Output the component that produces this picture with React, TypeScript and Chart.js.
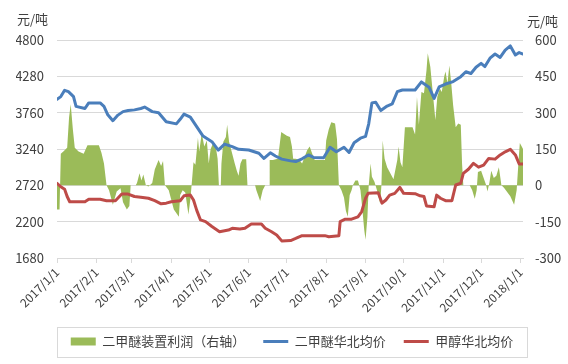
import React, { useEffect, useRef } from 'react';
import { Chart, registerables } from 'chart.js';

Chart.register(...registerables);

const FONT = '"Noto Sans CJK SC", "Noto Sans", sans-serif';

const tickDays = [0, 31, 59, 90, 120, 151, 181, 212, 243, 273, 304, 334, 365];
const tickLabels = [
  '2017/1/1', '2017/2/1', '2017/3/1', '2017/4/1', '2017/5/1', '2017/6/1', '2017/7/1',
  '2017/8/1', '2017/9/1', '2017/10/1', '2017/11/1', '2017/12/1', '2018/1/1',
];

const leftMin = 1680;
const leftMax = 4800;
const leftStep = 520;
const rightMin = -300;
const rightMax = 600;
const rightStep = 150;

const seriesNames = ['二甲醚华北均价', '甲醇华北均价', '二甲醚装置利润（右轴）'];

// 二甲醚华北均价 (left axis)
const dmeDays = [
  0, 3, 6, 9, 13, 15, 22, 25, 34, 37, 40, 44, 48, 52, 56, 61, 66, 69, 75, 80, 86, 94, 97, 100,
  105, 110, 115, 122, 127, 132, 138, 143, 151, 159, 163, 168, 172, 177, 184, 188, 193, 198, 202,
  210, 215, 220, 226, 230, 234, 239, 243, 245.5, 248, 251, 255, 260, 264, 268, 272, 282, 287, 293,
  297, 301, 306, 312, 318, 322, 326, 330, 334, 337, 341, 345, 349, 353, 357, 361, 364, 367,
];
const dmePrice = [
  3950, 3990, 4080, 4060, 3990, 3850, 3820, 3900, 3900, 3850, 3730, 3645, 3725, 3775, 3790, 3800, 3820, 3840, 3775, 3760, 3630, 3600, 3665, 3740,
  3695, 3560, 3425, 3345, 3225, 3310, 3275, 3235, 3225, 3180, 3105, 3185, 3140, 3095, 3070, 3060, 3100, 3155, 3120,
  3115, 3265, 3200, 3265, 3190, 3330, 3395, 3420, 3600, 3900, 3910, 3790, 3855, 3885, 4060, 4085, 4085, 4200, 4125,
  3965, 4130, 4170, 4205, 4275, 4345, 4320, 4410, 4465, 4420, 4540, 4600, 4550, 4655, 4715, 4585, 4620, 4600,
];

// 甲醇华北均价 (left axis)
const methDays = [
  0, 3, 6, 8, 10, 22, 25, 34, 39, 46, 51, 56, 61, 66, 72, 77, 82, 86, 90, 97, 100, 105, 107.5, 110,
  113, 117, 122, 128, 135, 138, 144, 148, 153, 161, 164, 169, 173, 177, 184, 188, 193, 211, 214, 222,
  223, 227, 232, 237, 240, 243, 245, 253, 256, 259, 262, 266, 270, 273, 282, 286, 289, 291, 297, 299,
  302, 306, 311, 314, 318, 320, 324, 328, 332, 336, 340, 345, 349, 353, 357, 361, 364, 367,
];
const methPrice = [
  2750, 2700, 2665, 2560, 2485, 2485, 2520, 2520, 2500, 2500, 2595, 2595, 2560, 2550, 2535, 2500, 2455, 2465, 2485, 2500, 2570, 2580, 2510, 2365,
  2225, 2200, 2130, 2057, 2080, 2105, 2095, 2105, 2165, 2165, 2105, 2055, 2010, 1925, 1930, 1960, 2000, 2000, 1985, 2000,
  2200, 2235, 2235, 2270, 2345, 2535, 2605, 2615, 2465, 2510, 2580, 2605, 2690, 2605, 2600, 2570, 2560, 2425, 2415, 2580,
  2535, 2500, 2500, 2725, 2750, 2890, 2950, 3035, 2980, 3010, 3105, 3095, 3155, 3200, 3235, 3155, 3025, 3025,
];

// 二甲醚装置利润 (right axis)
const profitDays = [
  0, 2, 3, 5, 8, 9.5, 10.8, 12.5, 14, 17, 21, 24, 33, 35, 37, 39, 41, 44, 47, 50, 52, 55, 57, 58,
  62, 63, 65, 66.5, 68, 70, 72, 75, 77, 80, 82, 83.5, 85, 88, 92, 96, 97, 99, 101, 103.5, 105, 106,
  107.5, 109, 111, 112, 114, 116, 118, 119.5, 121, 123, 125, 126.5, 127.5, 129, 129.5, 131, 133, 134,
  135.5, 138, 140, 141.6, 143, 144.5, 146, 149, 150, 156, 157, 160, 162, 164, 167, 167.5, 170, 174,
  176.6, 178, 181, 183.5, 185, 186, 188, 191, 193, 197, 199, 201, 203, 211, 212, 214, 216, 219, 220.5,
  222, 224, 226, 227.5, 229, 230.5, 232, 233, 235, 237, 238, 239, 240.5, 242, 243, 244.5, 245.5, 247,
  248, 250, 252, 254.5, 255.5, 256.5, 258, 260, 262.5, 265, 268, 269, 270.5, 272, 274, 280, 282, 283.5,
  285, 287, 289, 291, 292, 294, 296, 298, 299.5, 301.5, 303, 305, 306, 307.5, 309, 310.5, 312, 314,
  316, 318, 319, 320, 325, 327, 329, 330.5, 331.5, 334, 336, 338, 339, 340.5, 342, 344, 346, 348, 350,
  352, 357, 360, 362, 363.5, 364.5, 366, 367,
];
const profitVals = [
  -100, -100, 130, 140, 155, 280, 335, 230, 155, 140, 130, 165, 165, 135, 90, 0, -20, -80, -25, -12, -70, -100, -85, 0,
  0, 10, 50, 20, 45, 0, -5, 10, 65, 105, 80, 100, 0, -20, -100, -130, -40, -20, -30, -120, -60, 0,
  95, 85, 195, 140, 215, 160, 185, 90, 150, 175, 160, 110, 0, 0, 90, 180, 200, 250,
  180, 130, 90, 60, 40, 90, 108, 108, 0, 0, -20, -65, -20, 0, 0, 105, 105, 110,
  220, 215, 205, 200, 160, 110, 110, 105, 90, 145, 160, 130, 105, 105, 185, 230, 260, 255, 190,
  0, -20, -50, -105, -130, -40, -20, 0, 20, 20, 0, -20, -100, -185, -225, -130, 0, 90,
  35, 15, -20, -75, 0, 185, 110, 75, 50, 25, 105, 160, 95, 75, 240, 240, 210, 365,
  250, 385, 380, 475, 545, 490, 380, 270, 365, 400, 385, 450, 470, 420, 495, 420, 330, 240,
  255, 250, 90, 0, 0, -20, -55, -20, 55, 60, 30, 0, -25, 10, 60, 30, 40, 75, 0,
  -10, -45, -80, -20, 100, 175, 160, 150,
];

const legendRank = [1, 2, 0];

const toPoints = (xs: number[], ys: number[]) => xs.map((x, i) => ({ x, y: ys[i] }));

const decorPlugin = {
  id: 'decor',
  afterDraw(chart: any) {
    const ctx = chart.ctx;
    const area = chart.chartArea;
    const lg = chart.legend;
    ctx.save();
    ctx.font = `13px ${FONT}`;
    ctx.fillStyle = '#404040';
    ctx.textBaseline = 'middle';
    ctx.textAlign = 'left';
    ctx.fillText('元/吨', 17, 19);
    ctx.fillText('元/吨', 527, 21);
    if (lg) {
      ctx.strokeStyle = '#d9d9d9';
      ctx.lineWidth = 1;
      ctx.strokeRect(Math.round(area.left) + 0.5, Math.round(lg.top) + 10.5, Math.round(area.right - area.left) + 4, 30);
    }
    ctx.restore();
  },
};

export default function App() {
  const ref = useRef<HTMLCanvasElement | null>(null);

  useEffect(() => {
    if (!ref.current) return;
    const chart = new Chart(ref.current, {
      type: 'line',
      data: {
        datasets: [
          {
            label: seriesNames[0],
            data: toPoints(dmeDays, dmePrice),
            yAxisID: 'y',
            borderColor: '#4a7ebb',
            backgroundColor: '#4a7ebb',
            borderWidth: 3,
            pointRadius: 0,
            tension: 0,
            borderJoinStyle: 'round',
            borderCapStyle: 'round',
            fill: false,
          },
          {
            label: seriesNames[1],
            data: toPoints(methDays, methPrice),
            yAxisID: 'y',
            borderColor: '#be4b48',
            backgroundColor: '#be4b48',
            borderWidth: 3,
            pointRadius: 0,
            tension: 0,
            borderJoinStyle: 'round',
            borderCapStyle: 'round',
            fill: false,
          },
          {
            label: seriesNames[2],
            data: toPoints(profitDays, profitVals),
            yAxisID: 'y1',
            borderColor: '#9bbb59',
            backgroundColor: '#9bbb59',
            borderWidth: 0,
            pointRadius: 0,
            tension: 0,
            fill: 'origin',
          },
        ],
      },
      options: {
        animation: false,
        responsive: true,
        maintainAspectRatio: false,
        layout: { padding: { top: 40, bottom: 6, left: 16, right: 0 } },
        plugins: {
          tooltip: { enabled: false },
          legend: {
            position: 'bottom',
            labels: {
              usePointStyle: true,
              pointStyleWidth: 25,
              boxHeight: 8,
              padding: 18,
              color: '#404040',
              font: { size: 13, family: FONT },
              sort: (a: any, b: any) => legendRank[a.datasetIndex] - legendRank[b.datasetIndex],
              generateLabels: (c: any) => {
                const items = (Chart.defaults.plugins.legend.labels as any).generateLabels(c);
                return items.map((it: any) => ({
                  ...it,
                  pointStyle: it.datasetIndex === 2 ? 'rect' : 'line',
                  lineWidth: it.datasetIndex === 2 ? 0 : 3,
                }));
              },
            },
          },
        },
        scales: {
          x: {
            type: 'linear',
            min: 0,
            max: 367,
            afterBuildTicks: (s: any) => {
              s.ticks = tickDays.map((v) => ({ value: v }));
            },
            afterFit: (s: any) => {
              s.height = 59;
            },
            ticks: {
              autoSkip: false,
              maxRotation: 45,
              minRotation: 45,
              padding: 2,
              color: '#404040',
              font: { size: 12, family: FONT },
              callback: (v: any) => {
                const i = tickDays.indexOf(Number(v));
                return i >= 0 ? tickLabels[i] : '';
              },
            },
            grid: { display: true, drawOnChartArea: false, drawTicks: true, tickLength: 5, color: '#d9d9d9' },
            border: { display: true, color: '#d9d9d9' },
          },
          y: {
            position: 'left',
            min: leftMin,
            max: leftMax,
            afterFit: (s: any) => {
              s.width = 41;
            },
            ticks: {
              stepSize: leftStep,
              padding: 13,
              color: '#404040',
              font: { size: 13, family: FONT },
              callback: (v: any) => String(v),
            },
            grid: { color: '#d9d9d9', drawTicks: false },
            border: { display: false },
          },
          y1: {
            position: 'right',
            min: rightMin,
            max: rightMax,
            afterFit: (s: any) => {
              s.width = 45;
            },
            ticks: {
              stepSize: rightStep,
              padding: 12,
              color: '#404040',
              font: { size: 13, family: FONT },
              callback: (v: any) => String(v),
            },
            grid: { display: false, drawTicks: false },
            border: { display: false },
          },
        },
      },
      plugins: [decorPlugin],
    } as any);
    return () => chart.destroy();
  }, []);

  return (
    <div style={{ position: 'absolute', left: 0, top: 0, width: 568, height: 364, background: '#fff' }}>
      <canvas ref={ref} />
    </div>
  );
}
